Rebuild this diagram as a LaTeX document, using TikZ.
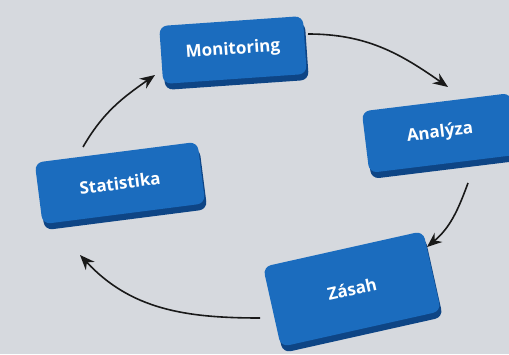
\documentclass[tikz,border=0pt]{standalone}
\usepackage{fontspec}
\setmainfont{Open Sans}
\usetikzlibrary{arrows.meta,shadows}
\definecolor{bgray}{HTML}{D6D9DE}
\definecolor{btnblue}{HTML}{1B6CBE}
\definecolor{btnedge}{HTML}{0E4585}
\tikzset{
  btn/.style={rectangle,rounded corners=8pt,fill=btnblue,text=white,
    font=\fontsize{17}{19}\selectfont\bfseries,inner sep=0pt,
    general shadow={fill=btnedge,shadow xshift=2pt,shadow yshift=-6pt}},
  arr/.style={->,draw=black!90,line width=1.6pt}
}
\begin{document}
\begin{tikzpicture}[x=1pt,y=1pt,>={Stealth[length=15pt,width=12pt]}]
\fill[bgray](0,0)rectangle(509,354);
\useasboundingbox(0,0)rectangle(509,354);
\clip(0,0)rectangle(509,354);
% buttons
\node[btn,rotate=4,minimum width=144pt,minimum height=58pt](mon) at (233,304){Monitoring};
\node[btn,rotate=7,minimum width=150pt,minimum height=62pt](ana) at (440,221){Analýza};
\node[btn,rotate=7.3,minimum width=164pt,minimum height=62pt](stat) at (120,171){Statistika};
\node[btn,rotate=12.6,minimum width=164pt,minimum height=82pt](zas) at (352,65){Zásah};
% cycle
\draw[arr]([shift={(75,16)}]mon.center)to[out=0,in=145]([shift={(8,46)}]ana.center);
\draw[arr]([shift={(28,-50)}]ana.center)to[out=-110,in=40]([shift={(75,42)}]zas.center);
\draw[arr]([shift={(-92,-29)}]zas.center)to[out=180,in=-47]([shift={(-40,-72)}]stat.center);
\draw[arr]([shift={(-37,36)}]stat.center)to[out=60,in=215]([shift={(-78,-25)}]mon.center);
\end{tikzpicture}
\end{document}
